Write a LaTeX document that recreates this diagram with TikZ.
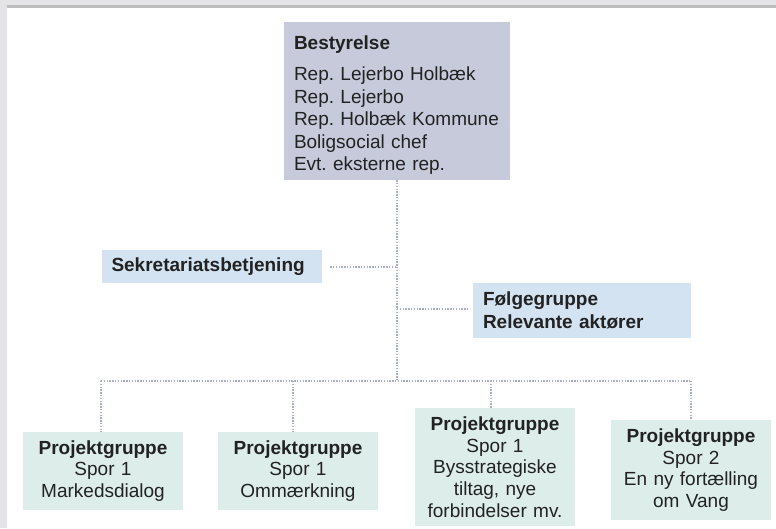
\documentclass[tikz,border=0pt]{standalone}
\usepackage{fontspec}
\setmainfont{Liberation Sans}
\frenchspacing
\definecolor{boardfill}{HTML}{C6CADB}
\definecolor{sidefill}{HTML}{D3E3F1}
\definecolor{projfill}{HTML}{DCEDEA}
\definecolor{dotcol}{HTML}{A7ACCB}
\definecolor{framegray}{HTML}{E4E4E6}
\definecolor{frameline}{HTML}{BDBDBD}
\definecolor{txt}{HTML}{222222}
\tikzset{
  box/.style={draw=none, inner sep=0pt, text=txt, font=\fontsize{19}{22.5}\selectfont},
  board/.style={box, fill=boardfill, minimum width=226pt, minimum height=158pt, align=left, text width=206pt},
  side/.style={box, fill=sidefill, align=left, font=\fontsize{19}{23}\selectfont},
  proj/.style={box, fill=projfill, minimum width=160pt, align=center, text width=158pt, font=\fontsize{19}{21.6}\selectfont},
  conn/.style={dotcol, line width=1.3pt, dash pattern=on 1.3pt off 1.5pt}
}
\begin{document}
\begin{tikzpicture}[x=1pt,y=-1pt]
\useasboundingbox (0,0) rectangle (776,528);
\fill[white] (0,0) rectangle (776,528);
\fill[framegray] (0,0) rectangle (776,5);
\fill[framegray] (0,0) rectangle (7,528);
\fill[frameline] (7,5) rectangle (776,7.5);

\node[board] (board) at (397,101) {\rule{0pt}{22pt}\textbf{Bestyrelse}\\[8.5pt]
Rep. Lejerbo Holbæk\\ Rep. Lejerbo\\ Rep. Holbæk Kommune\\ Boligsocial chef\\ Evt. eksterne rep.};

\node[side, minimum width=220pt, minimum height=33pt, text width=201pt] (sek) at (212,266.5) {\textbf{Sekretariatsbetjening}};
\node[side, minimum width=218pt, minimum height=55pt, text width=198pt] (folg) at (582,310.5) {\textbf{Følgegruppe}\\ \textbf{Relevante aktører}};

\node[proj, minimum height=78pt] (p1) at (103,471) {\textbf{Projektgruppe}\\ Spor 1\\ Markedsdialog};
\node[proj, minimum height=78pt] (p2) at (298,471) {\textbf{Projektgruppe}\\ Spor 1\\ Ommærkning};
\node[proj, minimum height=118pt] (p3) at (495,467) {\textbf{Projektgruppe}\\ Spor 1\\ Bysstrategiske\\ tiltag, nye\\ forbindelser mv.};
\node[proj, minimum height=100pt] (p4) at (691,470) {\textbf{Projektgruppe}\\ Spor 2\\ En ny fortælling\\ om Vang};

\coordinate (hub) at (397,381);
\coordinate (sekj) at (397,267);
\coordinate (folgj) at (397,309);
\coordinate (hl) at (101,381);
\coordinate (hr) at (691,381);

\draw[conn] (board.south) -- (hub);
\draw[conn] ([xshift=8pt]sek.east |- sekj) -- (sekj);
\draw[conn] (folgj) -- ([xshift=-3pt]folg.west |- folgj);
\draw[conn] (hl) -- (hr);
\draw[conn] (hl) -- (hl |- p1.north);
\draw[conn] (293,381) -- (293,0 |- p2.north);
\draw[conn] (491,381) -- (491,0 |- p3.north);
\draw[conn] (hr) -- (hr |- p4.north);
\end{tikzpicture}
\end{document}
